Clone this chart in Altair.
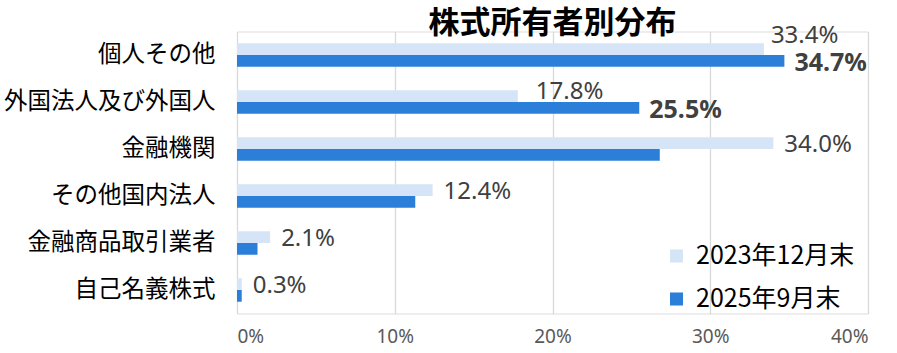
import altair as alt
import pandas as pd

categories = ["個人その他", "外国法人及び外国人", "金融機関", "その他国内法人", "金融商品取引業者", "自己名義株式"]
series = ["2023年12月末", "2025年9月末"]
v2023 = [33.4, 17.8, 34.0, 12.4, 2.1, 0.3]
v2025 = [34.7, 25.5, 26.8, 11.3, 1.3, 0.3]
bold_labels_2025 = ["個人その他", "外国法人及び外国人"]
colors = ["#D5E4F6", "#2C7FD8"]
ticks = [0, 10, 20, 30, 40]

rows = []
for i, c in enumerate(categories):
    rows.append({"cat": c, "series": series[0], "value": v2023[i], "label": f"{v2023[i]:.1f}%",
                 "bold": False})
    rows.append({"cat": c, "series": series[1], "value": v2025[i], "label": f"{v2025[i]:.1f}%",
                 "bold": c in bold_labels_2025})
df = pd.DataFrame(rows)

CJK = "Noto Sans CJK JP"
NUM = "Noto Sans"

base = alt.Chart(df)
y = alt.Y("cat:N", sort=categories,
          scale=alt.Scale(paddingInner=0.5, paddingOuter=0.25),
          axis=alt.Axis(title=None, ticks=False, domain=False, labelFontSize=23.5, labelLimit=400,
                        labelColor="#000000", labelPadding=22, labelFont=CJK))
yoff = alt.YOffset("series:N", sort=series, scale=alt.Scale(domain=series, paddingInner=0, paddingOuter=0))
x = alt.X("value:Q", scale=alt.Scale(domain=[0, 40]),
          axis=alt.Axis(values=ticks, labelExpr="datum.value + '%'", title=None, domain=False,
                        ticks=False, gridColor="#D9D9D9", gridWidth=1.3, labelFontSize=19,
                        labelColor="#595959", labelFont=NUM, labelPadding=14))

bars = base.mark_bar().encode(
    x=x, y=y, yOffset=yoff,
    color=alt.Color("series:N", sort=series,
                    scale=alt.Scale(domain=series, range=colors),
                    legend=alt.Legend(orient="none", legendX=427, legendY=212, title=None,
                                      symbolType="square", symbolSize=170, labelFontSize=25,
                                      labelFont=CJK, labelColor="#000000", rowPadding=17,
                                      labelOffset=7, symbolStrokeWidth=0, symbolOpacity=1)),
)

enc = dict(x="value:Q", y=alt.Y("cat:N", sort=categories), yOffset=alt.YOffset("series:N", sort=series), text="label:N")

s0 = series[0]
c0 = categories[0]
c1 = categories[1]

lab_first = base.transform_filter(
    f"datum.series == '{s0}' && datum.cat == '{c0}'"
).mark_text(align="left", baseline="middle", dx=7, dy=-13, fontSize=24, font=NUM, color="#404040").encode(**enc)

lab_second = base.transform_filter(
    f"datum.series == '{s0}' && datum.cat == '{c1}'"
).mark_text(align="left", baseline="middle", dx=18, dy=-4, fontSize=24, font=NUM, color="#404040").encode(**enc)

lab_rest = base.transform_filter(
    f"datum.series == '{s0}' && datum.cat != '{c0}' && datum.cat != '{c1}'"
).mark_text(align="left", baseline="middle", dx=11, dy=2, fontSize=24, font=NUM, color="#404040").encode(**enc)

lab_bold = base.transform_filter(
    "datum.bold"
).mark_text(align="left", baseline="middle", dx=10, dy=2, fontSize=25, font=NUM, fontWeight="bold", color="#404040").encode(**enc)

chart = alt.layer(bars, lab_first, lab_second, lab_rest, lab_bold).properties(
    width=631, height=282,
    title=alt.Title("株式所有者別分布", fontSize=31, fontWeight="bold", font=CJK, anchor="middle",
                    color="#000000", offset=-16),
    autosize=alt.AutoSizeParams(type="none"),
    padding={"left": 237, "top": 31.5, "right": 29, "bottom": 39.5},
).configure_view(stroke=None).configure(background="white")

chart.save("out.html", embed_options={"renderer": "svg", "actions": False})
